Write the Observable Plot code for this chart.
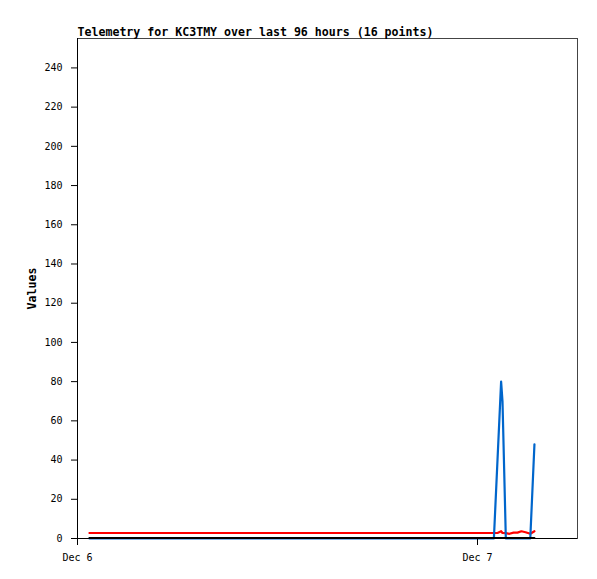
<!DOCTYPE html>
<html>
<head>
<meta charset="utf-8">
<script src="https://cdn.jsdelivr.net/npm/d3@7"></script>
<script src="https://cdn.jsdelivr.net/npm/@observablehq/plot@0.6"></script>
<style>
  html, body { margin: 0; padding: 0; background: #fff; }
</style>
</head>
<body>
<div id="chart"></div>
<script>
const titleText = "Telemetry for KC3TMY over last 96 hours (16 points)";
const yLabel = "Values";

const times = [
  "2023-12-06T00:43", "2023-12-07T00:59", "2023-12-07T01:12", "2023-12-07T01:25",
  "2023-12-07T01:30", "2023-12-07T01:42", "2023-12-07T01:55", "2023-12-07T02:10",
  "2023-12-07T02:24", "2023-12-07T02:38", "2023-12-07T02:53", "2023-12-07T03:10",
  "2023-12-07T03:25"
];
const blueValues  = [0, 0, 40, 80, 70, 0, 0, 0, 0, 0, 0, 0, 48];
const redValues   = [2.8, 2.8, 2.8, 3.7, 2.8, 2.7, 2.4, 3.0, 3.0, 3.7, 3.2, 2.4, 3.7];
const blackValues = [0, 0, 0, 0, 0, 0, 0, 0, 0, 0, 0, 0, 0];

const yTicks = [0, 20, 40, 60, 80, 100, 120, 140, 160, 180, 200, 220, 240];
const xTickDates = ["2023-12-06T00:00", "2023-12-07T00:00"];
const xDomain = ["2023-12-06T00:00", "2023-12-07T06:00"];
const yDomain = [0, 255];

const parse = s => new Date(s + ":00Z");
const rows = (vals) => times.map((t, i) => ({t: parse(t), v: vals[i]}));

const fmt = d3.utcFormat("%b %-d");

const chart = Plot.plot({
  width: 597,
  height: 579,
  marginLeft: 77,
  marginRight: 20,
  marginTop: 38,
  marginBottom: 41,
  style: {fontFamily: "DejaVu Sans Mono", fontSize: "10px", background: "#fff", color: "#000", overflow: "visible"},
  x: {type: "utc", domain: xDomain.map(parse)},
  y: {domain: yDomain},
  marks: [
    Plot.frame({stroke: "#444"}),
    Plot.lineY(rows(redValues), {x: "t", y: "v", stroke: "#ff0000", strokeWidth: 2.2}),
    Plot.lineY(rows(blueValues), {x: "t", y: "v", stroke: "#0066cc", strokeWidth: 2.2}),
    Plot.lineY(rows(blackValues), {x: "t", y: "v", stroke: "#000", strokeWidth: 2, dy: -0.5}),
    Plot.ruleY([0], {stroke: "#000"}),
    Plot.ruleX([parse(xDomain[0])], {stroke: "#000"}),
    Plot.axisY({ticks: yTicks, tickSize: 6, tickPadding: 9, label: null, tickFormat: d => String(d), stroke: "#000"}),
    Plot.axisX({ticks: xTickDates.map(parse), tickSize: 7, tickPadding: 8, label: null, tickFormat: fmt, stroke: "#000"}),
    Plot.text([titleText], {frameAnchor: "top-left", textAnchor: "start", lineAnchor: "bottom", dy: -3, fontWeight: "bold", fontSize: 11.6, fill: "#000"}),
    Plot.text([yLabel], {frameAnchor: "left", textAnchor: "middle", rotate: -90, dx: -45, fontWeight: "bold", fontSize: 11.6, fill: "#000"})
  ]
});
document.getElementById("chart").appendChild(chart);
</script>
</body>
</html>
